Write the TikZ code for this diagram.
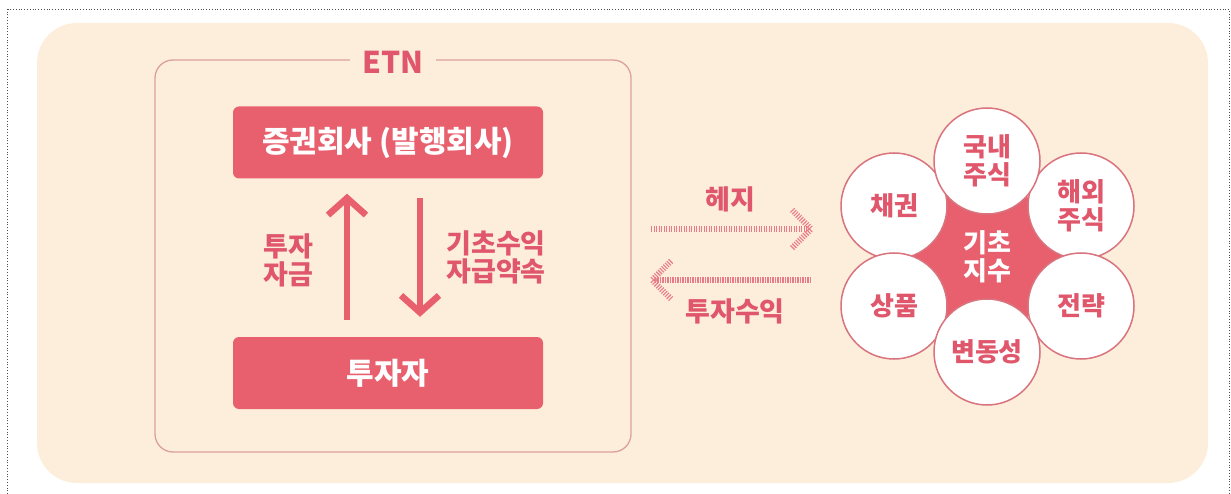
\documentclass[tikz,border=0pt]{standalone}
\usepackage{fontspec}
\setmainfont{Noto Sans CJK KR}
\usetikzlibrary{arrows.meta,calc,shapes.geometric}
\definecolor{peach}{HTML}{FDEEDB}
\definecolor{boxred}{HTML}{E8606E}
\definecolor{labelred}{HTML}{E0566A}
\definecolor{frameline}{HTML}{DCA09C}
\definecolor{petalline}{HTML}{D9737E}
\definecolor{hatchpink}{HTML}{E87A8A}
\tikzset{
  redbox/.style={fill=boxred, rounded corners=6pt, text=white, inner sep=0pt,
    minimum width=310pt, minimum height=72pt, font=\bfseries\fontsize{30}{30}\selectfont},
  lbl/.style={text=labelred, align=center, inner sep=0pt, font=\bfseries\fontsize{27}{28}\selectfont},
  solidarrow/.style={draw=boxred, line width=6.5pt,
    -{Straight Barb[length=17pt 0, width=38pt 0]}},
  hatch/.style={draw=hatchpink, line width=6pt, dash pattern=on 1.1pt off 1.4pt},
  petal/.style={circle, draw=petalline, line width=1.5pt, fill=white, minimum size=106pt,
    inner sep=0pt, text=labelred, align=center, font=\bfseries\fontsize{26}{28}\selectfont},
}
\begin{document}
\begin{tikzpicture}[x=1pt,y=-1pt]
\useasboundingbox (0,0) rectangle (1231,494);
% outer dotted frame
\draw[dotted, black!70, line width=0.8pt] (7.5,494) -- (7.5,9.5) -- (1229.5,9.5) -- (1229.5,494);
% background
\fill[peach, rounded corners=40pt] (37,23) rectangle (1208,483);
% ETN frame
\draw[frameline, line width=1.3pt, rounded corners=18pt] (155,60) rectangle (631,452);
\node[fill=peach, inner xsep=12pt, inner ysep=2pt, text=labelred,
  font=\bfseries\fontsize{30}{30}\selectfont] (etn) at (393,62) {ETN};
% boxes
\node[redbox] (issuer) at (388,142.5) {증권회사 (발행회사)};
\node[redbox] (investor) at (388,373) {투자자};
% vertical arrows
\draw[solidarrow] ([xshift=-41pt,yshift=17pt]investor.north) -- ([xshift=-41pt,yshift=-15pt]issuer.south);
\draw[solidarrow] ([xshift=32pt,yshift=-19pt]issuer.south) -- ([xshift=32pt,yshift=20pt]investor.north);
\node[lbl] (fund) at (288,260) {투자\\자금};
\node[lbl] (promise) at (496,257) {기초수익\\자급약속};
% hatched arrows
\coordinate (hedgeS) at (651,229);
\coordinate (hedgeE) at (811,229);
\coordinate (retS) at (811,280);
\coordinate (retE) at (652,280);
\draw[hatch] (hedgeS) -- ($(hedgeE)+(-3,0)$);
\draw[hatch] ($(hedgeE)+(-19,-19)$) -- (hedgeE) -- ($(hedgeE)+(-19,19)$);
\draw[hatch] (retS) -- ($(retE)+(3,0)$);
\draw[hatch] ($(retE)+(19,-19)$) -- (retE) -- ($(retE)+(19,19)$);
\node[lbl] (hedge) at (730,199) {헤지};
\node[lbl] (ret) at (735,311) {투자수익};
% underlying index cluster
\node[regular polygon, regular polygon sides=6, minimum size=150pt, fill=boxred,
  text=white, align=center, font=\bfseries\fontsize{26}{28}\selectfont] (core) at (987,257) {기초\\지수};
\node[petal] (bond) at (894,206) {채권};
\node[petal] (comm) at (894,306) {상품};
\node[petal] (foreign) at (1081,206) {해외\\주식};
\node[petal] (strat) at (1081,306) {전략};
\node[petal] (domestic) at (987,161) {국내\\주식};
\node[petal] (vol) at (987,352) {변동성};
\end{tikzpicture}
\end{document}
